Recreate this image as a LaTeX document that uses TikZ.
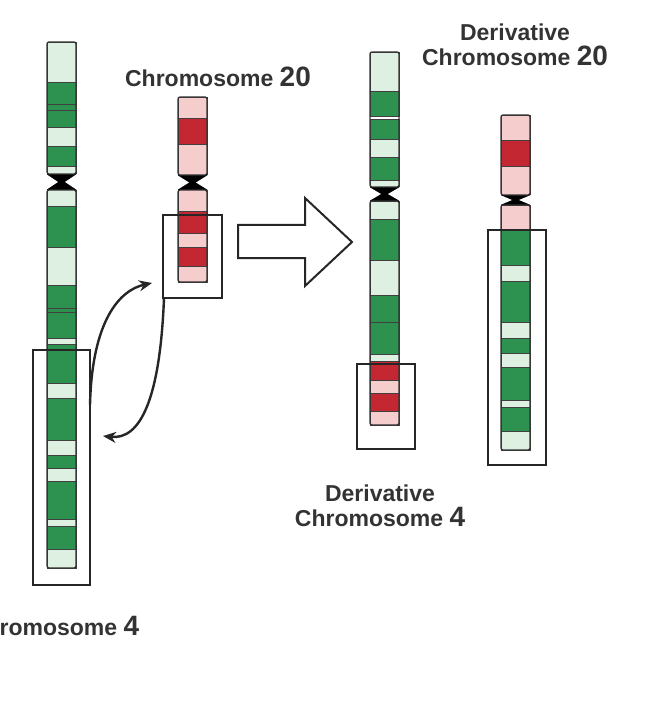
\documentclass[tikz,border=0pt]{standalone}
\usepackage{fontspec}
\setmainfont{Liberation Sans}
\usetikzlibrary{arrows.meta}
\definecolor{dg}{RGB}{45,145,80}
\definecolor{lg}{RGB}{222,240,226}
\definecolor{dr}{RGB}{195,40,50}
\definecolor{lr}{RGB}{246,205,205}
\tikzset{
  selbox/.style={draw=black!85,line width=2pt,fill=none,inner sep=0pt},
  lbl/.style={font=\bfseries\fontsize{23}{25}\selectfont,align=center,text=black!80},
  swap/.style={-{Stealth[length=13pt,width=11pt]},line width=2.4pt,black!85},
  bigarrow/.style={draw=black!85,line width=2pt,fill=white},
  outl/.style={draw=black!80,line width=1.3pt,rounded corners=2pt}
}
\newcommand{\band}[4]{\filldraw[fill=#4,draw=black!75,line width=0.8pt] (#1,#2) rectangle ++(29,#3-#2);}
\newcommand{\cen}[3]{%
  \fill[black] (#1,#2) rectangle (#1+29,#3);
  \fill[white] (#1-1,#2) -- (#1+11,{(#2+#3)/2}) -- (#1-1,#3) -- cycle;
  \fill[white] (#1+30,#2) -- (#1+18,{(#2+#3)/2}) -- (#1+30,#3) -- cycle;}
\newcommand{\num}[1]{{\fontsize{28}{28}\selectfont #1}}
\begin{document}
\begin{tikzpicture}[x=1pt,y=-1pt]
\useasboundingbox (0,0) rectangle (644,708);
% ---------- Chromosome 4
\foreach \a/\b/\c in {42/82/lg,82/104/dg,104/110/dg,110/127/dg,127/146/lg,146/166/dg,166/175/lg,
  189/206/lg,206/247/dg,247/285/lg,285/308/dg,308/312/dg,312/338/dg,338/344/lg,344/383/dg,383/398/lg,
  398/440/dg,440/455/lg,455/468/dg,468/481/lg,481/519/dg,519/526/lg,526/549/dg,549/568/lg}
  {\band{47}{\a}{\b}{\c}}
\cen{47}{174}{190}
\draw[outl] (47,42) rectangle (76,174);
\draw[outl] (47,190) rectangle (76,568);
\node[selbox,minimum width=57pt,minimum height=235pt] (box4) at (61.5,467.5) {};
\node[lbl] (l4) at (54,626) {Chromosome \num{4}};
% ---------- Chromosome 20
\foreach \a/\b/\c in {97/118/lr,118/144/dr,144/176/lr,189/211/lr,211/233/dr,233/247/lr,247/266/dr,266/282/lr}
  {\band{178}{\a}{\b}{\c}}
\cen{178}{175}{190}
\draw[outl] (178,97) rectangle (207,175);
\draw[outl] (178,190) rectangle (207,282);
\node[selbox,minimum width=59pt,minimum height=83pt] (box20) at (192.5,256.5) {};
\node[lbl] (l20) at (218,77) {Chromosome \num{20}};
% ---------- swap arrows
\coordinate (s1) at (90,405);
\coordinate (e1) at (152,283);
\coordinate (s2) at (164,298);
\coordinate (e2) at (103,436);
\draw[swap] (s1) .. controls (92,320) and (120,290) .. (e1);
\draw[swap] (s2) .. controls (160,400) and (140,440) .. (e2);
% ---------- big arrow
\draw[bigarrow] (238,225) -- (305,225) -- (305,198) -- (352,242) -- (305,286) -- (305,258) -- (238,258) -- cycle;
% ---------- Derivative chromosome 4
\foreach \a/\b/\c in {52/91/lg,91/116/dg,119/139/dg,139/157/lg,157/180/dg,180/187/lg,
  201/219/lg,219/260/dg,260/295/lg,295/322/dg,322/354/dg,354/361/lg,361/380/dr,380/393/lr,393/411/dr,411/425/lr}
  {\band{370}{\a}{\b}{\c}}
\cen{370}{187}{201}
\draw[outl] (370,52) rectangle (399,187);
\draw[outl] (370,201) rectangle (399,425);
\node[selbox,minimum width=58pt,minimum height=85pt] (bd4) at (386,406.5) {};
\node[lbl] (ld4) at (380,506) {Derivative\\Chromosome \num{4}};
% ---------- Derivative chromosome 20
\foreach \a/\b/\c in {115/140/lr,140/166/dr,166/195/lr,205/230/lr,230/265/dg,265/281/lg,281/322/dg,322/338/lg,
  338/353/dg,353/367/lg,367/400/dg,400/407/lg,407/431/dg,431/450/lg}
  {\band{501}{\a}{\b}{\c}}
\cen{501}{195}{205}
\draw[outl] (501,115) rectangle (530,195);
\draw[outl] (501,205) rectangle (530,450);
\node[selbox,minimum width=58pt,minimum height=235pt] (bd20) at (517,347.5) {};
\node[lbl] (ld20) at (515,45) {Derivative\\Chromosome \num{20}};
\end{tikzpicture}
\end{document}
